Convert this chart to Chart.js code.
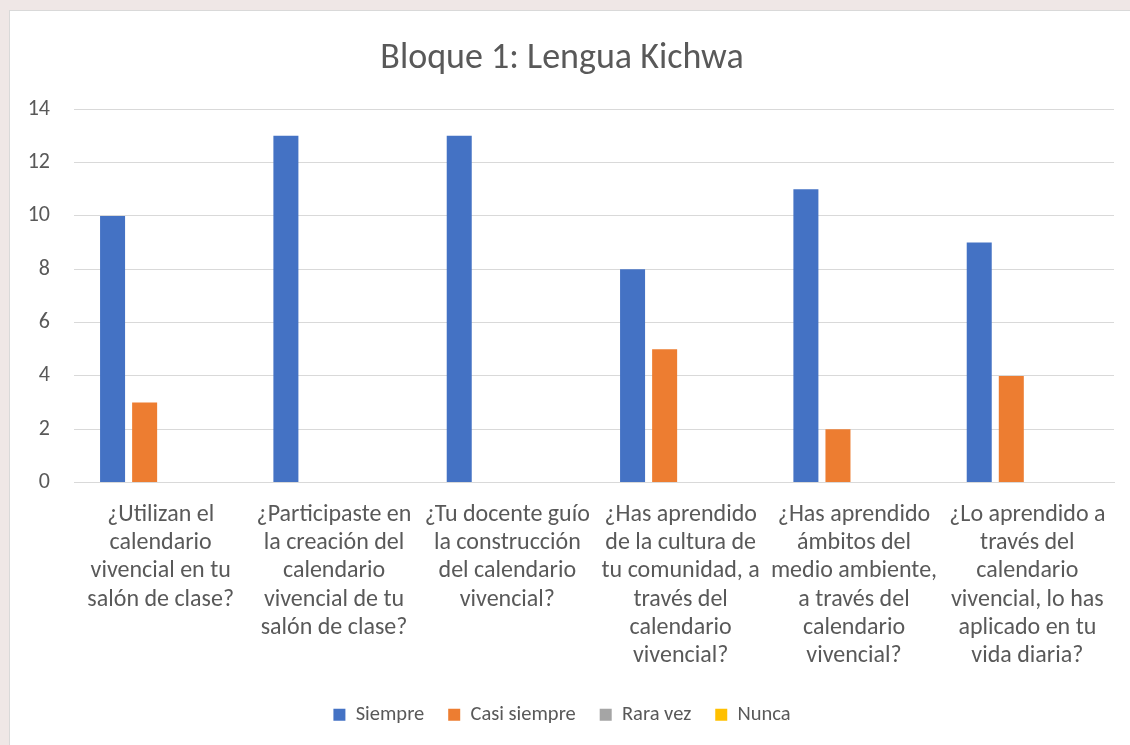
<!DOCTYPE html>
<html>
<head>
<meta charset="utf-8">
<script src="https://cdn.jsdelivr.net/npm/chart.js@4"></script>
<style>
  html, body { margin: 0; padding: 0; }
  body { width: 1130px; height: 745px; background: #efe7e6; overflow: hidden; position: relative; }
  .box { position: absolute; left: 9px; top: 10px; width: 1140px; height: 745px; background: #fff; border: 1px solid #d9d9d9; box-sizing: border-box; }
  canvas { display: block; }
</style>
</head>
<body>
<div class="box"><canvas id="grafico" width="1130" height="745"></canvas></div>
<script>
const preguntas = [
  ['¿Utilizan el', 'calendario', 'vivencial en tu', 'salón de clase?'],
  ['¿Participaste en', 'la creación del', 'calendario', 'vivencial de tu', 'salón de clase?'],
  ['¿Tu docente guío', 'la construcción', 'del calendario', 'vivencial?'],
  ['¿Has aprendido', 'de la cultura de', 'tu comunidad, a', 'través del', 'calendario', 'vivencial?'],
  ['¿Has aprendido', 'ámbitos del', 'medio ambiente,', 'a través del', 'calendario', 'vivencial?'],
  ['¿Lo aprendido a', 'través del', 'calendario', 'vivencial, lo has', 'aplicado en tu', 'vida diaria?']
]
const siempre = [10, 13, 13, 8, 11, 9]
const casiSiempre = [3, 0, 0, 5, 2, 4]
const raraVez = [0, 0, 0, 0, 0, 0]
const nunca = [0, 0, 0, 0, 0, 0]
const yTicks = [0, 2, 4, 6, 8, 10, 12, 14]

const gris = '#595959'
const fuente = "Carlito, Lato, 'Open Sans', sans-serif"

const serie = (label, data, color) => ({
  label: label,
  data: data,
  backgroundColor: color,
  borderWidth: 0,
  categoryPercentage: 0.74,
  barPercentage: 0.78
})

new Chart(document.getElementById('grafico'), {
  type: 'bar',
  data: {
    labels: preguntas,
    datasets: [
      serie('Siempre', siempre, '#4472c4'),
      serie('Casi siempre', casiSiempre, '#ed7d31'),
      serie('Rara vez', raraVez, '#a5a5a5'),
      serie('Nunca', nunca, '#ffc000')
    ]
  },
  options: {
    responsive: false,
    animation: false,
    layout: { padding: { left: 0, right: 26, top: 26, bottom: 21 } },
    plugins: {
      title: {
        display: true,
        text: 'Bloque 1: Lengua Kichwa',
        color: gris,
        font: { family: fuente, size: 36, weight: 'normal' },
        padding: { top: 0, bottom: 29 }
      },
      legend: {
        position: 'bottom',
        labels: {
          color: gris,
          font: { family: fuente, size: 20.5 },
          boxWidth: 12,
          boxHeight: 12,
          padding: 24
        }
      },
      tooltip: { enabled: false }
    },
    scales: {
      x: {
        grid: { display: false },
        border: { color: '#d9d9d9', width: 1 },
        afterFit: axis => {
          // sin relleno extra por la primera/última etiqueta
          axis.paddingLeft = 0
          axis.paddingRight = 0
        },
        ticks: {
          color: gris,
          font: { family: fuente, size: 24, lineHeight: 1.18 },
          maxRotation: 0,
          autoSkip: false,
          padding: 10
        }
      },
      y: {
        min: 0,
        max: 14,
        afterBuildTicks: axis => { axis.ticks = yTicks.map(v => ({ value: v })) },
        afterFit: axis => { axis.width = 64 },
        grid: { color: '#d9d9d9', drawTicks: false },
        border: { display: false },
        ticks: {
          color: gris,
          font: { family: fuente, size: 22 },
          padding: 24
        }
      }
    }
  }
})
</script>
</body>
</html>
